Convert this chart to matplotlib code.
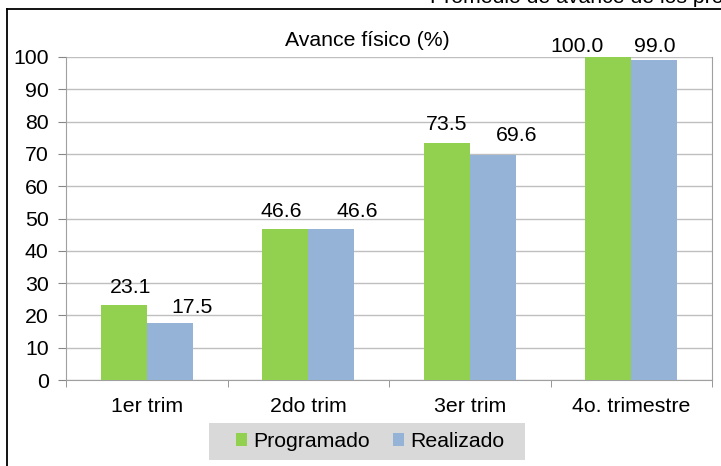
import matplotlib
matplotlib.use("Agg")
import matplotlib.pyplot as plt
import numpy as np
from matplotlib.patches import Patch, Rectangle
from matplotlib.lines import Line2D

categories = ["1er trim", "2do trim", "3er trim", "4o. trimestre"]
programado = [23.1, 46.6, 73.5, 100.0]
realizado = [17.5, 46.6, 69.6, 99.0]
series_names = ["Programado", "Realizado"]

# label placement tweaks (pixels) as in the original chart
lbl_dx = {"Programado": [7, -4, 0, -31], "Realizado": [22, 26, 24, 0]}
lbl_dy = {"Programado": [12, 12, 13, 5], "Realizado": [10, 12, 14, 8]}

plt.rcParams['font.family'] = ['Liberation Sans', 'DejaVu Sans']
FS = 15.3

W, H = 721, 466
fig = plt.figure(figsize=(W / 100, H / 100), dpi=100)
fig.patch.set_facecolor("white")

# outer frame lines (left and top)
fig.add_artist(Line2D([7 / W, 7 / W], [0, 1 - 9 / H], color="black", lw=1.3, transform=fig.transFigure))
fig.add_artist(Line2D([7 / W, 1], [1 - 9 / H, 1 - 9 / H], color="black", lw=1.3, transform=fig.transFigure))
fig.text(430 / W, 1 - 7 / H, "Promedio de avance de los programas", fontsize=FS, ha="left", va="bottom")

ax = fig.add_axes([66 / W, 1 - 380 / H, (712 - 66) / W, (380 - 57) / H])
x = np.arange(len(categories))
bw = 0.285
green = "#92D050"
blue = "#95B3D7"
b1 = ax.bar(x - bw / 2, programado, bw, color=green, zorder=3)
b2 = ax.bar(x + bw / 2, realizado, bw, color=blue, zorder=3)

for name, bars, vals in (("Programado", b1, programado), ("Realizado", b2, realizado)):
    for i, (b, v) in enumerate(zip(bars, vals)):
        ax.annotate(f"{v:.1f}", (b.get_x() + b.get_width() / 2, v),
                    xytext=(lbl_dx[name][i], lbl_dy[name][i]),
                    textcoords="offset pixels", ha="center", va="baseline", fontsize=FS,
                    annotation_clip=False)

ax.set_xlim(-0.5, len(categories) - 0.5)
ax.set_ylim(0, 100)
ax.set_yticks(np.arange(0, 101, 10))
ax.set_xticks(x)
ax.set_xticklabels(categories)
ax.set_xticks(np.arange(-0.5, len(categories), 1), minor=True)
ax.tick_params(axis="x", which="major", length=0, pad=12, labelsize=FS)
ax.tick_params(axis="x", which="minor", length=5, color="#868686", direction="out")
ax.tick_params(axis="y", length=5.5, color="#868686", direction="out", labelsize=FS, pad=7)
ax.yaxis.grid(True, color="#BFBFBF", lw=1, zorder=0)
for s in ["left", "bottom", "right", "top"]:
    ax.spines[s].set_color("#A0A0A0")
ax.spines["top"].set_visible(False)
ax.set_axisbelow(True)

fig.text(367 / W, 1 - 40 / H, "Avance físico (%)", fontsize=FS, ha="center", va="center")

# legend background box
fig.add_artist(Rectangle((209 / W, 1 - 460 / H), (525 - 209) / W, (460 - 423) / H,
                         transform=fig.transFigure, facecolor="#D9D9D9", edgecolor="none", zorder=1))
handles = [Patch(facecolor=green, edgecolor="none"), Patch(facecolor=blue, edgecolor="none")]
leg = fig.legend(handles, series_names, loc="center", bbox_to_anchor=(370 / W, 1 - 441.5 / H),
                 ncol=2, fontsize=FS, frameon=False, handlelength=0.52,
                 handleheight=0.52, handletextpad=0.3, columnspacing=1.1, borderpad=0,
                 borderaxespad=0)
leg.set_zorder(2)

fig.savefig("out.png", dpi=100)
